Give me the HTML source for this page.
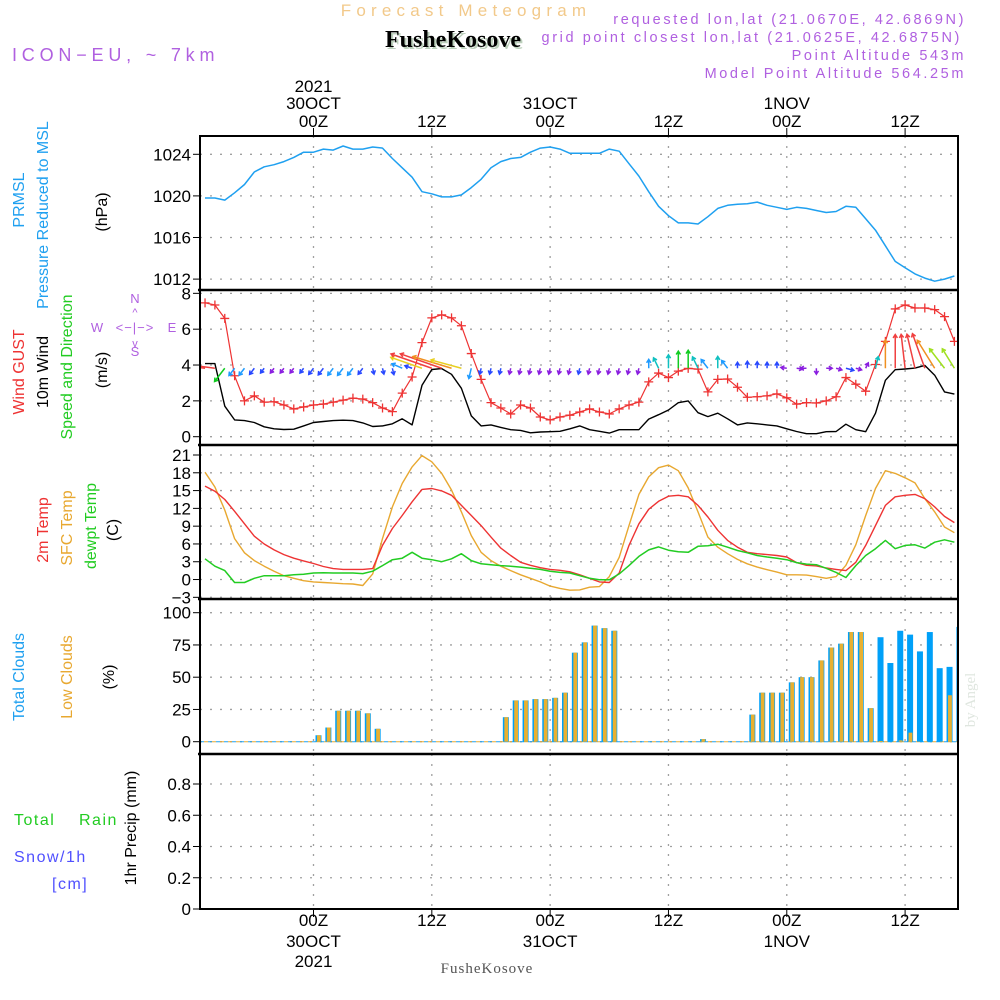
<!DOCTYPE html>
<html><head><meta charset="utf-8">
<style>
html,body{margin:0;padding:0;background:#fff;}
#wrap{position:relative;width:1000px;height:1000px;overflow:hidden;}
svg text{font-family:"Liberation Sans",sans-serif;}
</style></head>
<body>
<div id="wrap">
<svg id="chart" width="1000" height="1000" viewBox="0 0 1000 1000" xmlns="http://www.w3.org/2000/svg">
<text x="466" y="16" text-anchor="middle" font-size="17" fill="#f2c98a" letter-spacing="5.2">Forecast Meteogram</text>
<text x="455" y="49" text-anchor="middle" font-size="24" font-weight="bold" fill="#bcd0bc" style="font-family:'Liberation Serif',serif">FusheKosove</text>
<text x="453" y="47" text-anchor="middle" font-size="24" font-weight="bold" fill="#000" style="font-family:'Liberation Serif',serif">FusheKosove</text>
<text x="12" y="61" font-size="18" fill="#b060e0" letter-spacing="4.8">ICON−EU, ~ 7km</text>
<g fill="#b060e0" font-size="14.5" text-anchor="end" letter-spacing="2.6">
<text x="966" y="24">requested lon,lat (21.0670E, 42.6869N)</text>
<text x="962" y="42">grid point closest lon,lat (21.0625E, 42.6875N)</text>
<text x="966" y="60">Point Altitude 543m</text>
<text x="966" y="78">Model Point Altitude 564.25m</text>
</g>
<text x="975" y="700" font-size="15" fill="#dfe6df" transform="rotate(-90 975 700)" text-anchor="middle" style="font-family:'Liberation Serif',serif">by Angel</text>
<g font-size="16">
<text transform="translate(24,200) rotate(-90)" text-anchor="middle" fill="#1fa0f0">PRMSL</text>
<text transform="translate(48,215) rotate(-90)" text-anchor="middle" fill="#1fa0f0">Pressure Reduced to MSL</text>
<text transform="translate(107,212) rotate(-90)" text-anchor="middle" fill="#000">(hPa)</text>
<text transform="translate(24,372) rotate(-90)" text-anchor="middle" fill="#ee3333">Wind GUST</text>
<text transform="translate(48,372) rotate(-90)" text-anchor="middle" fill="#000">10m Wind</text>
<text transform="translate(72,367) rotate(-90)" text-anchor="middle" fill="#22cc22">Speed and Direction</text>
<text transform="translate(107,370) rotate(-90)" text-anchor="middle" fill="#000">(m/s)</text>
<text transform="translate(48,530) rotate(-90)" text-anchor="middle" fill="#ee3333">2m Temp</text>
<text transform="translate(72,528) rotate(-90)" text-anchor="middle" fill="#e8a830">SFC Temp</text>
<text transform="translate(96,526) rotate(-90)" text-anchor="middle" fill="#22cc22">dewpt Temp</text>
<text transform="translate(118,530) rotate(-90)" text-anchor="middle" fill="#000">(C)</text>
<text transform="translate(24,677) rotate(-90)" text-anchor="middle" fill="#1fa0f0">Total Clouds</text>
<text transform="translate(72,677) rotate(-90)" text-anchor="middle" fill="#e8a830">Low Clouds</text>
<text transform="translate(114,677) rotate(-90)" text-anchor="middle" fill="#000">(%)</text>
<text transform="translate(136,828) rotate(-90)" text-anchor="middle" fill="#000">1hr Precip (mm)</text>
<text x="14" y="825" fill="#22cc22" letter-spacing="1.5">Total</text>
<text x="79" y="825" fill="#22cc22" letter-spacing="1.5">Rain</text>
<text x="14" y="862" fill="#5050ff" letter-spacing="1.5">Snow/1h</text>
<text x="52" y="889" fill="#5050ff" letter-spacing="1.5">[cm]</text>
</g>
<g fill="#b060e0" stroke="none" font-size="13">
<text x="135" y="303" text-anchor="middle">N</text>
<text x="135" y="356" text-anchor="middle">S</text>
<text x="97" y="332" text-anchor="middle">W</text>
<text x="172" y="332" text-anchor="middle">E</text>
<text x="135" y="332" text-anchor="middle" font-size="13" letter-spacing="1">&lt;−|−&gt;</text>
<text x="135" y="316" text-anchor="middle" font-size="11">^</text>
<text x="135" y="347" text-anchor="middle" font-size="11">v</text>
</g>
<g id="plot"></g>
</svg>
</div>
<script>
const hours = Array.from({length:77},(_, i)=>i-11);
const pressure = [1019.8,1019.8,1019.6,1020.3,1021.1,1022.3,1022.8,1023.0,1023.3,1023.7,
1024.2,1024.2,1024.5,1024.4,1024.8,1024.5,1024.5,1024.7,1024.6,1023.6,
1022.7,1021.8,1020.4,1020.2,1019.9,1019.9,1020.1,1020.8,1021.6,1022.7,
1023.3,1023.6,1023.7,1024.2,1024.6,1024.7,1024.5,1024.1,1024.1,1024.1,
1024.1,1024.5,1024.3,1023.1,1021.9,1020.4,1019.0,1018.1,1017.4,1017.4,
1017.3,1018.0,1018.8,1019.1,1019.2,1019.25,1019.4,1019.1,1018.9,1018.7,
1018.9,1018.8,1018.6,1018.4,1018.5,1019.0,1018.9,1017.8,1016.7,1015.2,
1013.7,1013.1,1012.5,1012.1,1011.8,1012.0,1012.3];
const gust = [7.47,7.35,6.6,3.4,2.0,2.28,1.93,1.95,1.77,1.55,
1.66,1.77,1.82,1.93,2.04,2.15,2.1,1.9,1.6,1.4,
2.43,3.33,5.25,6.63,6.8,6.63,6.19,4.64,3.2,1.9,
1.6,1.27,1.77,1.6,1.1,0.94,1.1,1.2,1.38,1.55,
1.38,1.27,1.55,1.77,1.93,3.06,3.55,3.3,3.66,3.81,
3.77,2.5,3.2,3.22,2.76,2.2,2.23,2.28,2.39,2.17,
1.82,1.9,1.88,2.0,2.23,3.3,2.93,2.54,4.03,5.32,
7.13,7.35,7.18,7.18,7.09,6.7,5.32];
const wind = [4.08,4.08,1.7,0.94,0.9,0.79,0.55,0.44,0.4,0.42,
0.6,0.79,0.85,0.9,0.92,0.9,0.77,0.57,0.6,0.72,
1.0,0.66,2.87,3.75,3.8,3.48,2.7,1.16,0.6,0.66,
0.52,0.39,0.35,0.22,0.26,0.28,0.3,0.44,0.6,0.39,
0.3,0.2,0.39,0.39,0.39,0.98,1.23,1.49,1.9,2.0,
1.34,1.12,1.31,1.0,0.66,0.77,0.72,0.66,0.6,0.44,
0.29,0.17,0.17,0.28,0.29,0.7,0.39,0.28,1.31,3.15,
3.74,3.78,3.83,3.98,3.43,2.5,2.38];
const windDir = [100,100,30,30,30,30,30,30,30,30,
30,30,30,30,30,30,30,350,350,350,
120,115,115,115,115,112,110,10,10,10,
10,10,10,10,10,10,10,10,10,10,
10,10,10,10,10,180,160,180,180,180,
160,150,180,150,180,180,180,180,180,100,
280,90,0,270,290,290,290,200,190,180,
180,175,170,165,155,150,155];
const temp2m = [15.75,14.9,13.5,11.5,9.4,7.3,6.0,5.0,4.2,3.6,
3.15,2.7,2.2,1.85,1.7,1.7,1.7,1.85,5.75,8.6,
10.8,13.1,15.2,15.35,14.95,14.2,12.5,10.8,9.1,7.15,
5.3,4.05,2.9,2.4,2.0,1.7,1.55,1.3,0.8,0.2,
-0.4,-0.5,1.1,5.75,9.4,11.85,13.2,14.05,14.2,13.95,
12.5,10.55,8.3,6.6,5.45,4.6,4.35,4.2,4.05,3.8,
2.85,2.4,2.3,1.95,1.7,1.5,2.9,5.75,9.1,12.5,
13.95,14.2,14.35,13.65,12.25,10.65,9.6];
const tempSfc = [18.1,15.6,11.7,6.9,4.5,3.2,2.25,1.4,0.65,0.2,
-0.2,-0.4,-0.5,-0.6,-0.7,-0.75,-1.0,0.95,6.9,12.25,
16.2,19.0,20.9,19.85,17.9,15.1,11.4,7.4,4.6,3.2,
2.25,1.5,0.8,0.2,-0.4,-1.1,-1.5,-1.8,-1.75,-1.3,
-1.2,0.5,3.75,9.1,14.35,17.3,18.85,19.3,18.35,15.45,
11.4,7.15,5.45,4.35,3.4,2.65,2.1,1.65,1.25,0.8,
0.8,0.75,0.5,0.2,0.5,2.4,5.85,10.8,15.35,18.35,
17.9,17.15,16.3,13.65,11.4,8.85,7.9];
const dewpt = [3.5,2.25,1.5,-0.5,-0.5,0.2,0.65,0.65,0.65,0.8,
0.9,1.1,1.15,1.1,1.1,1.1,1.0,1.4,2.35,3.35,
3.6,4.6,3.6,3.35,3.0,3.5,4.35,3.2,2.65,2.5,
2.35,2.25,2.1,1.9,1.7,1.4,1.2,1.1,0.65,0.2,
-0.05,-0.05,0.95,2.35,3.9,5.0,5.5,4.95,4.7,4.6,
5.6,5.7,5.95,5.45,4.9,4.5,4.05,3.8,3.6,3.35,
2.85,2.6,2.5,1.9,1.2,0.35,2.35,4.05,5.2,6.6,
5.2,5.75,5.85,5.3,6.3,6.7,6.3];
const totalClouds = [0,0,0,0,0,0,0,0,0,0,0,
5,11,24,24,24,22,10,0,0,0,
0,0,0,0,0,0,0,0,0,19,
32,32,33,33,34,38,69,77,90,88,
86,0,0,0,0,0,0,0,0,2,
0,0,0,0,21,38,38,38,46,50,
50,63,73,76,85,85,26,81,61,86,
83,70,85,57,58,89];
const lowClouds = [0,0,0,0,0,0,0,0,0,0,0,
5,11,24,24,24,22,10,0,0,0,
0,0,0,0,0,0,0,0,0,19,
32,32,33,33,34,38,69,77,90,88,
86,0,0,0,0,0,0,0,0,2,
0,0,0,0,21,38,38,38,46,50,
50,63,73,76,85,85,26,0.5,0,1,
7,0,0,0,36,42];
const precip = new Array(77).fill(0);
const timeTickHours = [0,12,24,36,48,60];
const timeTickLabels = ["00Z","12Z","00Z","12Z","00Z","12Z"];
const dayLabels = {0:"30OCT",24:"31OCT",48:"1NOV"};
const pTicks = [1024,1020,1016,1012];
const wTicks = [8,6,4,2,0];
const tTicks = [21,18,15,12,9,6,3,0,-3];
const cTicks = [100,75,50,25,0];
const rTicks = [0.8,0.6,0.4,0.2,0];

const L=200, R=958;
const X = h => 313.5 + 9.86*h;
const yP = p => 154.3 + (1024-p)*10.4;
const yW = v => 436.7 - v*17.92;
const yT = t => 455 + (21-t)*5.93;
const yC = c => 741.7 - c*1.29;
const yR = r => 909 - r*156.25;
const panels = [[136,290],[290,445],[445,599],[599,754],[754,909]];

const NS="http://www.w3.org/2000/svg";
const plot=document.getElementById('plot');
function mk(tag, attrs, parent){
  const e=document.createElementNS(NS,tag);
  for(const k in attrs) e.setAttribute(k,attrs[k]);
  (parent||plot).appendChild(e); return e;
}
const defs=mk('defs',{});
const cp=mk('clipPath',{id:'clip'},defs);
mk('rect',{x:L,y:136,width:R-L,height:773},cp);

const grid=mk('g',{stroke:'#a0a0a0','stroke-width':1.3,'stroke-dasharray':'2 8'});


panels.forEach(([a,b])=>{
  timeTickHours.forEach(h=>{ mk('line',{x1:X(h),x2:X(h),y1:a,y2:b},grid); });
});
function yAxis(ticks,fy,name,fmt){
  const g=mk('g',{});
  
  
  ticks.forEach(t=>{
    const y=fy(t);
    mk('line',{x1:L,x2:R,y1:y,y2:y,stroke:'#a0a0a0','stroke-width':1.3,'stroke-dasharray':'2 8'},g);
    mk('line',{x1:L-7,x2:L,y1:y,y2:y,stroke:'#000','stroke-width':1},g);
    const tx=mk('text',{x:L-9,y:y+6,'text-anchor':'end','font-size':17,fill:'#000'},g);
    tx.textContent=fmt?fmt(t):String(t);
  });
}
yAxis(pTicks,yP,'pressure-y-axis');
yAxis(wTicks,yW,'wind-y-axis');
yAxis(tTicks,yT,'temperature-y-axis',t=>t<0?'−'+(-t):String(t));
yAxis(cTicks,yC,'cloud-y-axis');
yAxis(rTicks,yR,'precip-y-axis',t=>t===0?'0':t.toFixed(1));

const ta=mk('g',{'font-size':17,fill:'#000','text-anchor':'middle'});


timeTickHours.forEach((h,k)=>{
  mk('line',{x1:X(h),x2:X(h),y1:128,y2:136,stroke:'#000'},ta);
  mk('line',{x1:X(h),x2:X(h),y1:909,y2:917,stroke:'#000'},ta);
  let t=mk('text',{x:X(h),y:127},ta); t.textContent=timeTickLabels[k];
  t=mk('text',{x:X(h),y:926},ta); t.textContent=timeTickLabels[k];
  if(dayLabels[h]!==undefined){
    t=mk('text',{x:X(h),y:109},ta); t.textContent=dayLabels[h];
    t=mk('text',{x:X(h),y:947},ta); t.textContent=dayLabels[h];
  }
});
let yr=mk('text',{x:X(0),y:92},ta); yr.textContent='2021';
yr=mk('text',{x:X(0),y:967},ta); yr.textContent='2021';
const bn=mk('text',{x:487,y:973,'font-size':15,fill:'#555','text-anchor':'middle',style:"font-family:'Liberation Serif',serif",'letter-spacing':'1'});
bn.textContent='FusheKosove';



const data=mk('g',{'clip-path':'url(#clip)'});
function line(arr,fy,color,name,w){
  const pts=arr.map((v,i)=>X(hours[i]).toFixed(1)+','+fy(v).toFixed(1)).join(' ');
  const e=mk('polyline',{points:pts,fill:'none',stroke:color,'stroke-width':w||1.4,'stroke-linejoin':'round'},data);
  
  
  return e;
}
const cg=mk('g',{},data);


mk('line',{x1:L,x2:R,y1:yC(0),y2:yC(0),stroke:'#1fa0f0','stroke-width':1,'stroke-dasharray':'4 4'},cg);
mk('line',{x1:L+4,x2:R,y1:yC(0),y2:yC(0),stroke:'#e8a830','stroke-width':1,'stroke-dasharray':'4 4'},cg);
totalClouds.forEach((c,i)=>{
  const x=X(hours[i])+2;
  if(c>0){
    const b=mk('rect',{x:x,y:yC(c),width:6,height:yC(0)-yC(c),fill:'#00a0f8'},cg);
    
    
  }
  const lc=lowClouds[i];
  if(lc>0){
    const o=mk('rect',{x:x+1.5,y:yC(lc),width:3.8,height:Math.max(yC(0)-yC(lc),1),fill:'#e8b030'},cg);
    
    
  }
});
const pl=line(precip,yR,'#000','precip-line',1.5);
pl.setAttribute('stroke-dasharray','6 3');

line(pressure,yP,'#1fa0f0','pressure-line',1.5);
line(wind,yW,'#000','wind-speed-line',1.4);
line(gust,yW,'#ee3333','wind-gust-line',1.2);
const gm=mk('g',{stroke:'#ee3333','stroke-width':1.3},data);


gust.forEach((g,i)=>{
  const x=X(hours[i]), y=yW(g);
  mk('path',{d:`M${x-4.5},${y}H${x+4.5}M${x},${y-4.5}V${y+4.5}`},gm);
});
function spdColor(s){
  if(s<0.5) return '#8a1ee0';
  if(s<0.9) return '#2848ff';
  if(s<1.2) return '#1e9bff';
  if(s<1.6) return '#10c0c0';
  if(s<2.1) return '#10cc20';
  if(s<2.6) return '#a0e020';
  if(s<3.0) return '#e8d020';
  if(s<3.5) return '#f09020';
  return '#f04040';
}
const ag=mk('g',{fill:'none','stroke-width':1.5},data);


wind.forEach((s,i)=>{
  const th=windDir[i]*Math.PI/180;
  let ux=-Math.sin(th), uy=-Math.cos(th);
  let dx=ux*s*12, dy=uy*s*9;
  let len=Math.hypot(dx,dy);
  if(len<6){ const f=6/Math.max(len,0.001); dx*=f; dy*=f; len=6; }
  const x0=X(hours[i]), y0=yW(3.82);
  const x1=x0+dx, y1=y0-dy;
  const ang=Math.atan2(-dy,dx);
  const hl=4;
  const a1=ang+Math.PI*0.82, a2=ang-Math.PI*0.82;
  const c=spdColor(s);
  const a=mk('path',{d:`M${x0},${y0}L${x1},${y1}M${x1+hl*Math.cos(a1)},${y1+hl*Math.sin(a1)}L${x1},${y1}L${x1+hl*Math.cos(a2)},${y1+hl*Math.sin(a2)}`,stroke:c},ag);
  
  
});
line(tempSfc,yT,'#e8a830','sfc-temp-line',1.4);
line(temp2m,yT,'#ee3333','temp-2m-line',1.4);
line(dewpt,yT,'#22cc22','dewpoint-line',1.5);

const fr=mk('g',{fill:'none',stroke:'#000','stroke-width':2});


mk('rect',{x:L,y:136,width:R-L,height:773},fr);
panels.slice(1).forEach(([a])=>mk('line',{x1:L-2,x2:R,y1:a,y2:a,'stroke-width':2.5},fr));
</script>
</body></html>
